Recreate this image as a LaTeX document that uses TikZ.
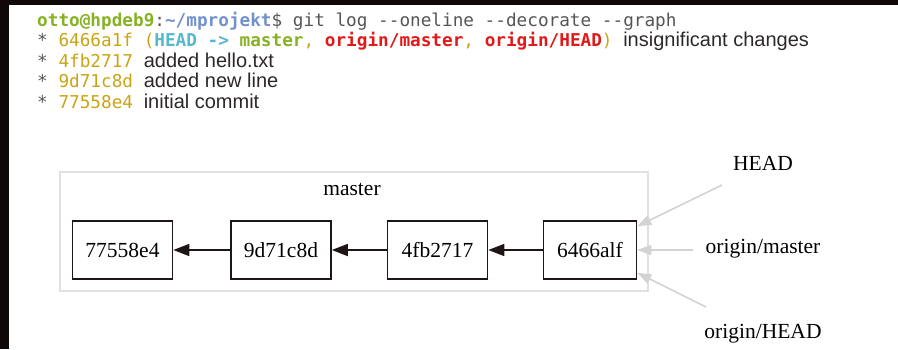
\documentclass[tikz,border=0pt]{standalone}
\usepackage{fontspec}
\setmainfont{Liberation Serif}
\setmonofont{DejaVu Sans Mono}
\newfontfamily\descfont{Liberation Sans}
\usetikzlibrary{arrows.meta}
\definecolor{framebg}{RGB}{16,8,8}
\definecolor{termgreen}{RGB}{135,178,35}
\definecolor{termblue}{RGB}{115,145,205}
\definecolor{termgold}{RGB}{200,165,20}
\definecolor{termcyan}{RGB}{85,185,205}
\definecolor{termred}{RGB}{225,25,25}
\definecolor{termgrey}{RGB}{85,85,85}
\definecolor{desctext}{RGB}{45,40,40}
\definecolor{boxline}{RGB}{30,22,22}
\definecolor{clustergrey}{RGB}{225,225,225}
\definecolor{refgrey}{RGB}{211,211,211}
\newcommand\desctxt[1]{{\descfont\fontsize{20}{22}\selectfont\color{desctext}#1}}

\begin{document}
\begin{tikzpicture}[x=1pt,y=-1pt,
  term/.style={anchor=base west,inner sep=0pt,text=termgrey,font=\ttfamily\fontsize{17.7}{20}\selectfont},
  commit/.style={draw=boxline,line width=1.6pt,minimum width=100pt,minimum height=58pt,inner sep=0pt,font=\fontsize{21.5}{24}\selectfont},
  ref/.style={inner sep=0pt,font=\fontsize{21.5}{24}\selectfont},
  parent/.style={draw=boxline,line width=1.6pt,-{Triangle[length=16pt,width=12pt]}},
  refarrow/.style={draw=refgrey,line width=1.6pt,-{Triangle[length=14pt,width=10pt]}}]
\useasboundingbox (0,0) rectangle (898,349);
\fill[framebg] (0,0) rectangle (898,5);
\fill[framebg] (0,0) rectangle (8.5,349);
\node[term] (l1) at (37,26) {{\bfseries\color{termgreen}otto@hpdeb9}:{\bfseries\color{termblue}\textasciitilde/mprojekt}\$ git log --oneline --decorate --graph};
\node[term] (l2) at (37,46.5) {* {\color{termgold}6466a1f (}{\bfseries\color{termcyan}HEAD -> }{\bfseries\color{termgreen}master}{\color{termgold}, }{\bfseries\color{termred}origin/master}{\color{termgold}, }{\bfseries\color{termred}origin/HEAD}{\color{termgold})} \desctxt{insignificant changes}};
\node[term] (l3) at (37,67) {* {\color{termgold}4fb2717} \desctxt{added hello.txt}};
\node[term] (l4) at (37,87.5) {* {\color{termgold}9d71c8d} \desctxt{added new line}};
\node[term] (l5) at (37,108) {* {\color{termgold}77558e4} \desctxt{initial commit}};
\node[draw=clustergrey,line width=1.8pt,minimum width=588pt,minimum height=119pt,inner sep=0pt] (cluster) at (354,231.5) {};
\node[ref] (master) at (352,190) {master};
\node[commit] (c1) at (122.5,250) {77558e4};
\node[commit] (c2) at (281,250) {9d71c8d};
\node[commit] (c3) at (437.5,250) {4fb2717};
\node[commit,minimum width=93pt] (c4) at (590,250) {6466alf};
\draw[parent] (c2) -- (c1); \draw[parent] (c3) -- (c2); \draw[parent] (c4) -- (c3);
\node[ref] (head) at (763,163) {HEAD};
\node[ref] (omaster) at (763,249) {origin/master};
\node[ref] (ohead) at (763,334) {origin/HEAD};
\coordinate (h1) at (722,185); \coordinate (h2) at (693,250); \coordinate (h3) at (706,307);
\draw[refarrow] (h1) -- ([yshift=-6pt]c4.north east);
\draw[refarrow] (h2) -- (c4.east);
\draw[refarrow] (h3) -- ([yshift=7pt]c4.south east);
\end{tikzpicture}
\end{document}
